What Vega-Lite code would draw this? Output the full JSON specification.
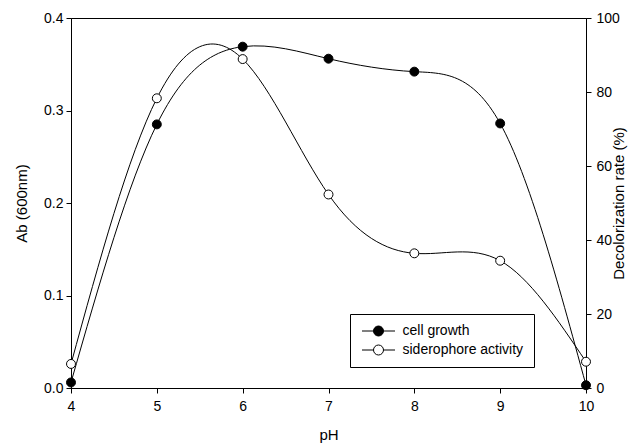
{
  "$schema": "https://vega.github.io/schema/vega-lite/v6.json",
  "width": 515,
  "height": 370,
  "autosize": {"type": "none"},
  "padding": {"left": 71, "top": 18, "right": 55, "bottom": 58},
  "background": "white",
  "config": {
    "font": "Liberation Sans",
    "view": {"stroke": "black", "strokeWidth": 1},
    "axis": {
      "grid": false,
      "domainColor": "black",
      "tickColor": "black",
      "tickSize": 5,
      "labelColor": "black",
      "titleColor": "black",
      "labelFontSize": 14,
      "titleFontSize": 15,
      "titleFontWeight": "normal",
      "labelFont": "Liberation Sans",
      "titleFont": "Liberation Sans"
    }
  },
  "datasets": {
    "cell": [
      {"pH": 4, "value": 0.006, "series": "cell growth"},
      {"pH": 5, "value": 0.285, "series": "cell growth"},
      {"pH": 6, "value": 0.369, "series": "cell growth"},
      {"pH": 7, "value": 0.356, "series": "cell growth"},
      {"pH": 8, "value": 0.342, "series": "cell growth"},
      {"pH": 9, "value": 0.286, "series": "cell growth"},
      {"pH": 10, "value": 0.003, "series": "cell growth"}
    ],
    "sid": [
      {"pH": 4, "value": 6.5, "series": "siderophore activity"},
      {"pH": 5, "value": 78.3, "series": "siderophore activity"},
      {"pH": 6, "value": 88.9, "series": "siderophore activity"},
      {"pH": 7, "value": 52.3, "series": "siderophore activity"},
      {"pH": 8, "value": 36.4, "series": "siderophore activity"},
      {"pH": 9, "value": 34.4, "series": "siderophore activity"},
      {"pH": 10, "value": 7.1, "series": "siderophore activity"}
    ]
  },
  "encoding": {
    "x": {
      "field": "pH",
      "type": "quantitative",
      "scale": {"domain": [4, 10], "nice": false, "zero": false},
      "axis": {"values": [4, 5, 6, 7, 8, 9, 10], "title": "pH", "labelPadding": 6, "titlePadding": 14, "labelFlush": false}
    }
  },
  "layer": [
    {
      "data": {"name": "cell"},
      "encoding": {
        "y": {
          "field": "value",
          "type": "quantitative",
          "scale": {"domain": [0, 0.4], "nice": false},
          "axis": {"values": [0, 0.1, 0.2, 0.3, 0.4], "format": ".1f", "title": "Ab (600nm)", "titlePadding": 14, "labelPadding": 3}
        }
      },
      "layer": [
        {"mark": {"type": "line", "color": "black", "strokeWidth": 1, "interpolate": "natural"}},
        {
          "mark": {"type": "point", "filled": true, "size": 80, "stroke": "black", "strokeWidth": 1, "opacity": 1},
          "encoding": {
            "fill": {
              "field": "series",
              "type": "nominal",
              "scale": {"domain": ["cell growth", "siderophore activity"], "range": ["black", "white"]},
              "legend": {
                "title": null,
                "orient": "none",
                "legendX": 279,
                "legendY": 296,
                "strokeColor": "black",
                "fillColor": "white",
                "padding": 10,
                "rowPadding": 5,
                "labelFontSize": 14,
                "labelFont": "Liberation Sans",
                "labelColor": "black",
                "labelOffset": 17,
                "symbolOffset": 11.5,
                "symbolType": "M-3.3,0H-1M1,0H3.3M-1,0A1,1,0,1,1,1,0A1,1,0,1,1,-1,0Z",
                "symbolSize": 100,
                "symbolStrokeColor": "black",
                "symbolStrokeWidth": 1,
                "symbolOpacity": 1
              }
            }
          }
        }
      ]
    },
    {
      "data": {"name": "sid"},
      "encoding": {
        "y": {
          "field": "value",
          "type": "quantitative",
          "scale": {"domain": [0, 100], "nice": false},
          "axis": {"orient": "right", "values": [0, 20, 40, 60, 80, 100], "title": "Decolorization rate (%)", "titleAngle": 270, "titlePadding": 7, "labelPadding": 5}
        }
      },
      "layer": [
        {"mark": {"type": "line", "color": "black", "strokeWidth": 1, "interpolate": "natural"}},
        {
          "mark": {"type": "point", "filled": true, "size": 80, "stroke": "black", "strokeWidth": 1, "opacity": 1},
          "encoding": {
            "fill": {"field": "series", "type": "nominal"}
          }
        }
      ]
    }
  ],
  "resolve": {"scale": {"y": "independent"}}
}
